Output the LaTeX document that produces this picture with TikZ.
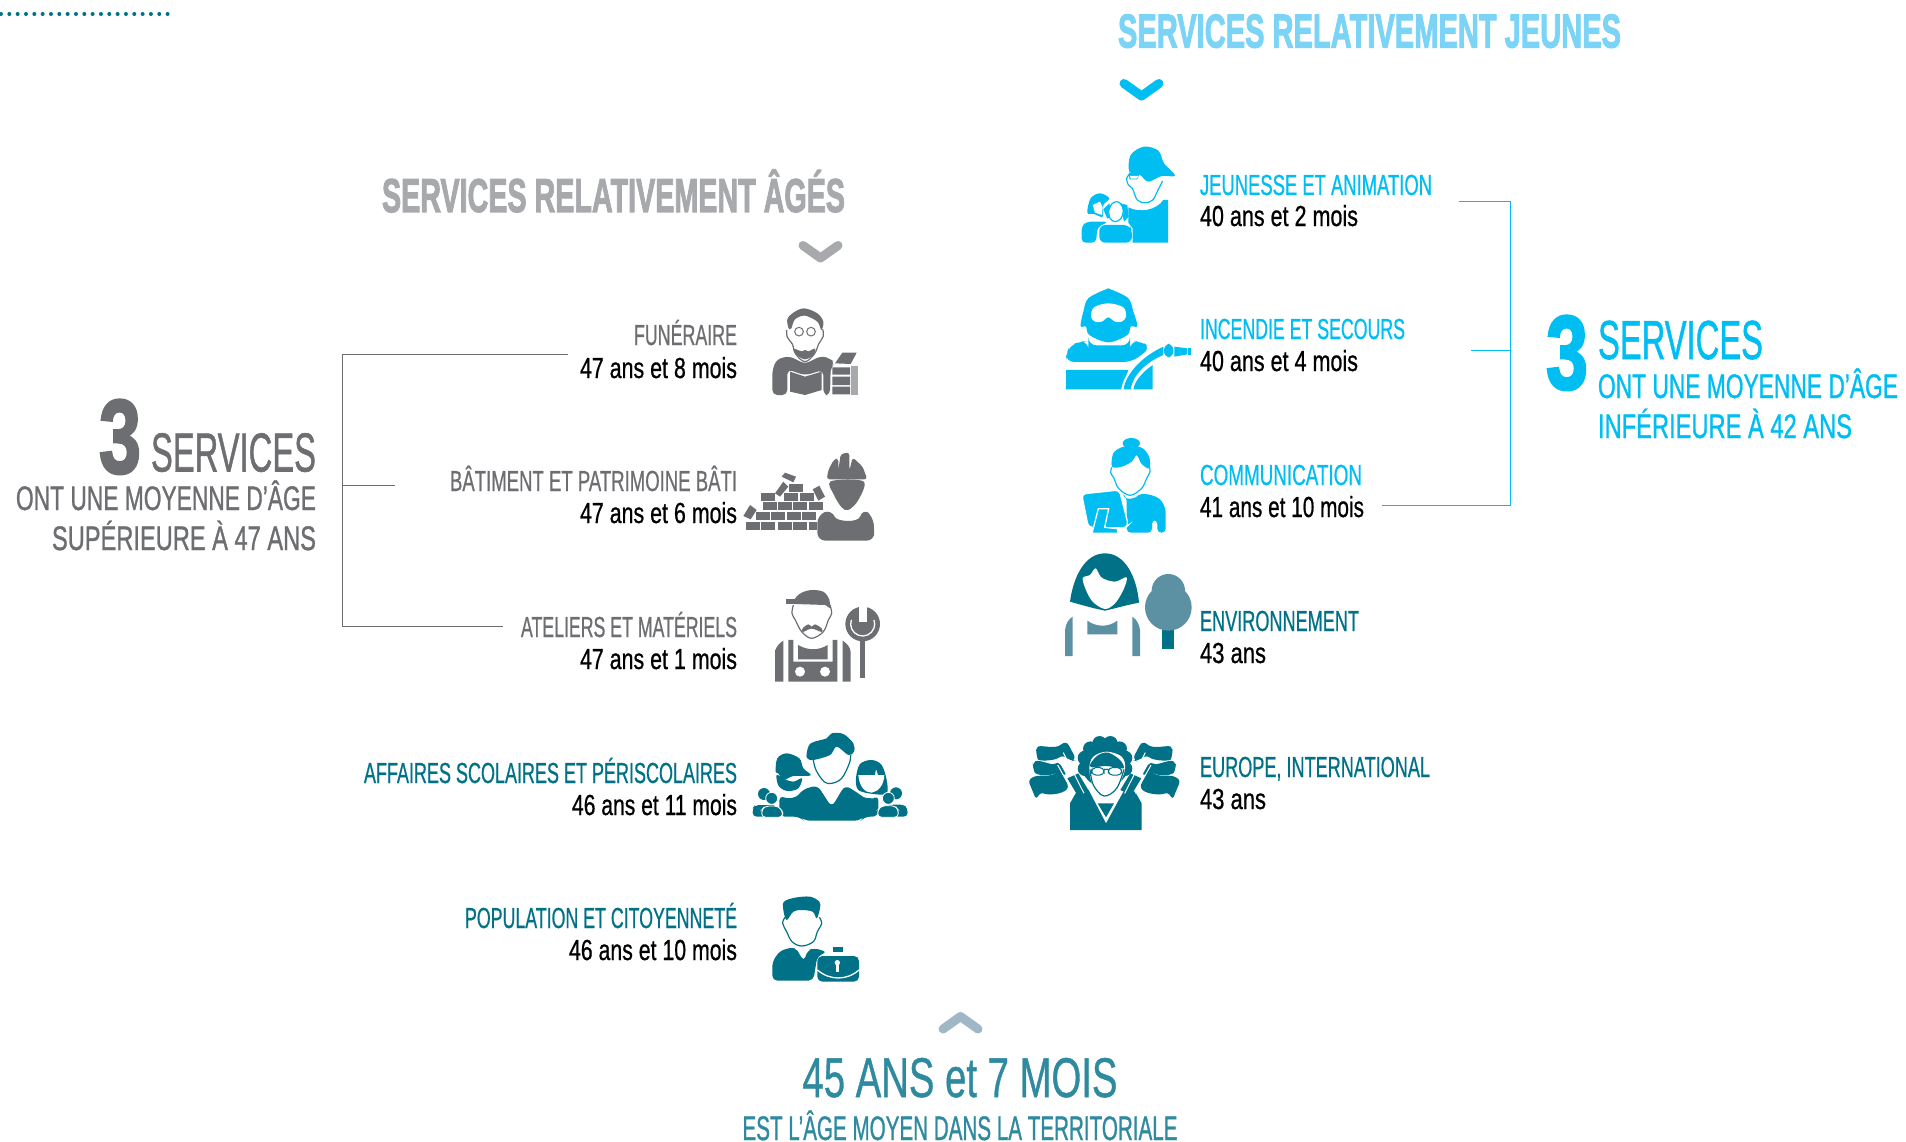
\documentclass[tikz,border=0pt]{standalone}
\usepackage{graphicx}
\usepackage{fontspec}
\setmainfont[FakeBold=0.9]{Liberation Sans}
\newfontfamily\headf[FakeBold=1.2]{Liberation Sans}
\newfontfamily\titlef[FakeBold=2.5]{Liberation Sans Bold}
\definecolor{bl}{HTML}{00BDF2}
\definecolor{ltb}{HTML}{7BD3F6}
\definecolor{te}{HTML}{007186}
\definecolor{te2}{HTML}{2F8A9F}
\definecolor{te3}{HTML}{5B91A3}
\definecolor{chv}{HTML}{A0B8C6}
\definecolor{gy}{HTML}{6D6E71}
\definecolor{lg}{HTML}{A7A9AC}
\newcommand\tw[3]{\resizebox{#1pt}{\height}{\fontsize{#2pt}{#2pt}\selectfont #3}}
\newcommand\blob[2]{\fill[#1] plot[smooth cycle,tension=.55] coordinates {#2};}
\newcommand\cur[2]{\draw[#1,line width=1.2pt] plot[smooth,tension=.6] coordinates {#2};}
\tikzset{
  lab/.style={inner sep=0pt,outer sep=0pt},
  le/.style={lab,anchor=base east},
  lw/.style={lab,anchor=base west},
  chev/.style={line width=9pt,line cap=round,line join=round},
  br/.style={line width=1pt},
  zoomed/.style={shift={#1},scale=1/3}
}
\begin{document}
\begin{tikzpicture}[x=1pt,y=-1pt]
\useasboundingbox (0,0) rectangle (1906,1142);
% dotted rule
\coordinate (d1) at (1,14); \coordinate (d2) at (169,14);
\draw[te,line width=4pt,line cap=round,dash pattern=on 0pt off 8.33pt] (d1) -- (d2);
% titles
\node[lw,text=ltb] (tjeune) at (1118,47.5) {\tw{503}{47.5}{\titlef SERVICES RELATIVEMENT JEUNES}};
\node[le,text=lg] (tage) at (845,212) {\tw{463}{47.5}{\titlef SERVICES RELATIVEMENT ÂGÉS}};
\coordinate (c1a) at (1124,83.5); \coordinate (c1b) at (1141.5,96); \coordinate (c1c) at (1159,83.5);
\draw[bl,chev] (c1a) -- (c1b) -- (c1c);
\coordinate (c2a) at (803,245.5); \coordinate (c2b) at (820.5,258); \coordinate (c2c) at (838,245.5);
\draw[lg,chev] (c2a) -- (c2b) -- (c2c);
\coordinate (c3a) at (943,1029); \coordinate (c3b) at (960.5,1016.5); \coordinate (c3c) at (978,1029);
\draw[chv,chev] (c3a) -- (c3b) -- (c3c);
% left labels
\node[le,text=gy] (l1) at (737,345) {\tw{103}{29}{FUNÉRAIRE}};
\node[le] (l1b) at (737,378) {\tw{157}{29}{47 ans et 8 mois}};
\node[le,text=gy] (l2) at (737,491) {\tw{287}{29}{BÂTIMENT ET PATRIMOINE BÂTI}};
\node[le] (l2b) at (737,523) {\tw{157}{29}{47 ans et 6 mois}};
\node[le,text=gy] (l3) at (737,637) {\tw{216}{29}{ATELIERS ET MATÉRIELS}};
\node[le] (l3b) at (737,669) {\tw{157}{29}{47 ans et 1 mois}};
\node[le,text=te] (l4) at (737,783) {\tw{373}{29}{AFFAIRES SCOLAIRES ET PÉRISCOLAIRES}};
\node[le] (l4b) at (737,815) {\tw{165}{29}{46 ans et 11 mois}};
\node[le,text=te] (l5) at (737,928) {\tw{272}{29}{POPULATION ET CITOYENNETÉ}};
\node[le] (l5b) at (737,960) {\tw{168}{29}{46 ans et 10 mois}};
% right labels
\node[lw,text=bl] (r1) at (1200,195) {\tw{232}{29}{JEUNESSE ET ANIMATION}};
\node[lw] (r1b) at (1200,226) {\tw{158}{29}{40 ans et 2 mois}};
\node[lw,text=bl] (r2) at (1200,339) {\tw{205}{29}{INCENDIE ET SECOURS}};
\node[lw] (r2b) at (1200,371) {\tw{158}{29}{40 ans et 4 mois}};
\node[lw,text=bl] (r3) at (1200,485) {\tw{162}{29}{COMMUNICATION}};
\node[lw] (r3b) at (1200,517) {\tw{164}{29}{41 ans et 10 mois}};
\node[lw,text=te] (r4) at (1200,631) {\tw{159}{29}{ENVIRONNEMENT}};
\node[lw] (r4b) at (1200,663) {\tw{66}{29}{43 ans}};
\node[lw,text=te] (r5) at (1200,777) {\tw{230}{29}{EUROPE, INTERNATIONAL}};
\node[lw] (r5b) at (1200,809) {\tw{66}{29}{43 ans}};
% left summary
\node[le,text=gy] (s3) at (141,473) {\tw{42}{105}{\titlef 3}};
\node[le,text=gy] (ss) at (316,471.5) {\tw{165}{55}{\headf SERVICES}};
\node[le,text=gy] (s1) at (316,510) {\tw{300}{34}{\headf ONT UNE MOYENNE D’ÂGE}};
\node[le,text=gy] (s2) at (316,550) {\tw{264}{34}{\headf SUPÉRIEURE À 47 ANS}};
% right summary
\node[lw,text=bl] (t3) at (1546,389) {\tw{42}{105}{\titlef 3}};
\node[lw,text=bl] (ts) at (1598,359) {\tw{165}{55}{\headf SERVICES}};
\node[lw,text=bl] (t1) at (1598,398) {\tw{300}{34}{\headf ONT UNE MOYENNE D’ÂGE}};
\node[lw,text=bl] (t2) at (1598,438) {\tw{254}{34}{\headf INFÉRIEURE À 42 ANS}};
% bottom
\node[lab,anchor=base,text=te2] (b1) at (960,1097) {\tw{315}{56}{45 ANS et 7 MOIS}};
\node[lab,anchor=base,text=te2] (b2) at (960,1140) {\tw{435}{34}{\headf EST L’ÂGE MOYEN DANS LA TERRITORIALE}};
% brackets
\coordinate (la) at (342.5,354); \coordinate (lb) at (342.5,485); \coordinate (lc) at (342.5,626);
\coordinate (la2) at (568,354); \coordinate (lb2) at (395,485); \coordinate (lc2) at (503,626);
\draw[gy,br] (la2) -- (la) -- (lc) -- (lc2);
\draw[gy,br] (lb) -- (lb2);
\coordinate (ra) at (1510.5,202); \coordinate (rb) at (1510.5,350); \coordinate (rc) at (1510.5,505.5);
\coordinate (ra2) at (1459,202); \coordinate (rb2) at (1471,350); \coordinate (rc2) at (1382,505.5);
\draw[bl,br] (ra2) -- (ra) -- (rc) -- (rc2);
\draw[bl,br] (rb) -- (rb2);

% ---------- icons traced in zoom coordinates
% Jeunesse
\begin{scope}[zoomed={(1020,120)}]
\blob{bl}{(328,155)(332,105)(372,80)(415,92)(432,130)(465,167)(425,168)(385,185)(360,165)}
\cur{bl}{(330,160)(320,175)(325,195)(337,205)(352,240)(375,248)(398,240)(415,208)(428,183)}
\fill[bl] (327,158) -- (358,163) -- (352,178) -- (328,178) -- cycle;
\fill[white] (330,168) -- (356,168) -- (350,176) -- (332,176) -- cycle;
\fill[bl] (325,262) .. controls (360,280) and (410,270) .. (430,240) -- (444,240) -- (444,368) -- (338,368) -- (338,325) -- (325,308) -- cycle;
\blob{bl}{(202,278)(212,235)(240,220)(268,235)(250,255)(248,290)(222,282)}
\fill[white] (218,255) -- (240,245) -- (248,262) -- (246,285) -- (225,278) -- cycle;
\fill[bl,rounded corners=4pt] (185,368) -- (185,318) -- (200,305) -- (265,305) -- (232,322) -- (228,368) -- cycle;
\fill[bl,rounded corners=6pt] (238,368) -- (238,315) -- (328,315) -- (336,330) -- (336,368) -- cycle;
\fill[bl] (250,268) -- (268,250) -- (275,290) -- (262,296) -- cycle;
\fill[bl] (322,255) -- (300,250) -- (312,305) -- (326,290) -- cycle;
\fill[white] (266,272) .. controls (275,240) and (300,240) .. (310,272) .. controls (312,295) and (290,310) .. (285,306) .. controls (275,305) and (262,290) .. (266,272) -- cycle;
\cur{bl}{(266,272)(275,252)(290,245)(303,252)(310,272)(303,295)(286,305)(270,295)(266,272)}
\end{scope}
% Incendie
\begin{scope}[zoomed={(1020,120)}]
\blob{bl}{(182,618)(190,575)(205,535)(258,508)(272,508)(325,535)(340,575)(352,618)(332,620)(322,645)(265,667)(208,645)(198,620)}
\blob{white}{(213,590)(222,562)(265,550)(310,562)(318,590)(305,605)(285,605)(265,592)(245,605)(225,605)}
\fill[bl,rounded corners=8pt] (138,726) -- (138,705) -- (150,675) -- (185,664) -- (205,664) -- (205,676) -- (330,676) -- (330,664) -- (365,664) -- (392,684) -- (335,726) -- cycle;
\fill[bl] (138,750) -- (325,750) -- (304,808) -- (138,808) -- cycle;
\fill[bl] (398,735) -- (398,808) -- (340,808) .. controls (345,780) and (370,755) .. (398,735) -- cycle;
\fill[white] (304,808) .. controls (310,760) and (365,700) .. (432,672) -- (432,712) .. controls (380,730) and (342,770) .. (338,810) -- cycle;
\fill[bl] (311,808) .. controls (316,762) and (368,708) .. (430,680) -- (430,705) .. controls (380,725) and (338,765) .. (332,808) -- cycle;
\fill[bl,rounded corners=6pt] (432,672) rectangle (460,712);
\fill[bl] (463,680) -- (502,685) -- (502,703) -- (463,710) -- cycle;
\fill[bl] (505,683) rectangle (513,705);
\end{scope}
% Communication
\begin{scope}[zoomed={(1020,120)}]
\fill[bl] (334,970) ellipse (26 and 16);
\blob{bl}{(276,1040)(280,1000)(305,982)(335,978)(368,985)(388,1012)(388,1045)(365,1032)(350,1006)(335,1025)(305,1040)}
\cur{bl}{(275,1042)(272,1058)(282,1075)(296,1105)(330,1126)(365,1105)(380,1075)(390,1055)(388,1040)}
\fill[bl,rounded corners=4pt] (305,1122) .. controls (320,1140) and (345,1135) .. (355,1122) -- (385,1122) -- (420,1135) -- (437,1165) -- (437,1238) -- (412,1238) -- (412,1200) -- (396,1200) -- (396,1238) -- (320,1238) -- (320,1130) -- cycle;
\fill[bl,draw=white,line width=1.3pt,rounded corners=4pt] (185,1122) -- (298,1110) -- (325,1215) -- (316,1224) -- (205,1222) -- cycle;
\fill[bl,draw=white,line width=1.3pt] (235,1166) -- (266,1166) -- (254,1222) -- (292,1226) -- (294,1240) -- (216,1240) -- cycle;
\end{scope}
% Funeraire
\begin{scope}[zoomed={(730,280)}]
\blob{gy}{(176,145)(172,118)(190,98)(222,85)(262,100)(280,125)(274,150)(262,125)(225,107)(195,118)(184,145)}
\cur{gy}{(170,150)(172,172)(187,192)(197,222)(225,245)(253,222)(266,192)(280,168)(278,148)}
\draw[gy,line width=1pt] (207,155) circle (13) (243,155) circle (13);
\blob{gy}{(190,206)(215,214)(225,210)(235,214)(255,206)(250,225)(225,238)(200,225)}
\fill[gy,rounded corners=5pt] (127,345) -- (127,270) -- (140,238) -- (177,228) -- (225,252) -- (272,228) -- (300,235) -- (316,250) -- (302,262) -- (300,345) -- (280,345) -- (280,270) -- (225,286) -- (172,268) -- (172,345) -- cycle;
\fill[gy] (180,275) -- (225,290) -- (275,275) -- (275,330) -- (225,345) -- (180,335) -- cycle;
\fill[gy] (315,250) -- (337,218) -- (380,218) -- (362,252) -- cycle;
\fill[gy] (307,262) rectangle (360,284) (307,290) rectangle (360,315) (307,320) rectangle (360,343);
\fill[lg] (363,258) rectangle (385,345);
\end{scope}
% Batiment
\begin{scope}[zoomed={(730,280)}]
\fill[gy,rounded corners=3pt] (290,598) -- (295,570) -- (312,538) -- (325,535) -- (325,572) -- (332,522) -- (358,517) -- (358,572) -- (368,532) -- (398,560) -- (412,598) -- cycle;
\blob{gy}{(302,604)(312,645)(335,682)(355,690)(385,660)(400,604)}
\fill[gy,rounded corners=8pt] (262,782) -- (262,705) -- (305,688) .. controls (320,725) and (385,730) .. (398,685) -- (430,710) -- (434,782) -- cycle;
\foreach \a/\b/\c/\d in {48/727/90/750,94/727/136/750,144/727/186/750,190/727/232/750,238/727/262/750,78/696/120/720,124/696/166/720,170/696/212/720,216/696/258/720,98/665/140/690,144/665/186/690,190/665/232/690,236/665/278/690,93/638/135/662,162/638/204/662,210/638/252/662,177/612/218/635}
  \fill[gy] (\a,\b) rectangle (\c,\d);
\fill[gy] (40,708) -- (60,675) -- (80,690) -- (62,718) -- cycle;
\fill[gy] (135,640) -- (160,605) -- (175,620) -- (150,650) -- cycle;
\fill[gy] (155,590) -- (165,578) -- (198,590) -- (190,607) -- cycle;
\fill[gy] (248,628) -- (268,617) -- (285,650) -- (265,662) -- cycle;
\end{scope}
% Ateliers
\begin{scope}[zoomed={(730,280)}]
\fill[gy] (194,958) .. controls (205,935) and (245,922) .. (280,935) .. controls (298,948) and (302,965) .. (300,985) -- (286,975) -- (194,972) -- cycle;
\fill[gy] (167,958) rectangle (250,972);
\cur{gy}{(190,975)(186,1000)(196,1020)(215,1055)(245,1075)(280,1055)(295,1020)(305,1000)(300,975)}
\blob{gy}{(218,1045)(235,1033)(245,1040)(255,1033)(275,1045)(275,1056)(245,1046)(218,1056)}
\fill[gy] (135,1205) -- (135,1112) .. controls (140,1098) and (150,1088) .. (160,1082) -- (160,1205) -- cycle;
\fill[gy] (338,1082) .. controls (350,1090) and (360,1100) .. (362,1115) -- (362,1205) -- (338,1205) -- cycle;
\fill[gy] (175,1205) -- (175,1080) -- (190,1080) -- (190,1145) -- (308,1145) -- (308,1080) -- (322,1080) -- (322,1205) -- cycle;
\fill[gy] (204,1095) .. controls (235,1112) and (265,1112) .. (293,1095) -- (293,1138) -- (204,1138) -- cycle;
\fill[white] (210,1175) circle (15) (285,1175) circle (15);
\fill[gy] (398,1032) circle (52);
\draw[white,line width=1.3pt] ([shift={(200:36)}]398,1032) arc (200:-20:36);
\fill[white] (388,975) rectangle (410,1026);
\fill[gy] (390,1075) rectangle (405,1195);
\end{scope}
% Affaires scolaires
\begin{scope}[zoomed={(730,710)}]
\fill[te,rounded corners=6pt] (148,320) -- (148,255) .. controls (175,268) and (200,262) .. (215,240) -- (262,225) -- (305,292) -- (345,225) -- (385,250) .. controls (405,265) and (430,265) .. (445,255) -- (445,320) -- (402,320) -- (392,332) -- (222,332) -- (210,320) -- cycle;
\blob{te}{(230,130)(242,100)(290,85)(305,70)(340,72)(370,100)(372,125)(355,135)(320,110)(300,135)(250,150)(232,145)}
\cur{te}{(250,150)(258,180)(282,215)(305,220)(335,205)(358,160)(362,135)}
\blob{te}{(137,185)(142,145)(170,130)(208,145)(220,175)(242,196)(190,198)(160,210)(145,190)}
\blob{te}{(140,195)(146,228)(172,243)(205,235)(216,205)(190,215)(165,208)}
\blob{te}{(378,205)(390,162)(425,150)(455,165)(470,210)(470,250)(430,252)(385,240)}
\fill[white] (385,195) -- (435,195) -- (438,178) -- (444,195) -- (463,195) .. controls (462,225) and (445,245) .. (425,248) .. controls (405,248) and (388,230) .. (385,195) -- cycle;
\fill[te] (102,252) circle (18) (498,250) circle (18);
\fill[te,draw=white,line width=.8pt] (125,265) circle (18) (475,265) circle (18);
\fill[te,rounded corners=4pt] (68,320) -- (68,295) -- (75,285) -- (140,285) -- (150,320) -- cycle;
\fill[te,draw=white,line width=.8pt,rounded corners=4pt] (95,322) -- (95,300) -- (105,288) -- (145,288) -- (158,305) -- (158,322) -- cycle;
\fill[te,rounded corners=4pt] (460,320) -- (470,285) -- (520,283) -- (533,295) -- (533,320) -- cycle;
\fill[te,draw=white,line width=.8pt,rounded corners=4pt] (443,322) -- (443,300) -- (455,287) -- (495,287) -- (505,300) -- (505,322) -- cycle;
\end{scope}
% Population
\begin{scope}[zoomed={(730,710)}]
\blob{te}{(160,600)(162,575)(195,563)(240,560)(268,575)(270,595)(260,625)(248,605)(215,600)(190,605)(170,630)}
\cur{te}{(165,622)(158,640)(170,665)(186,695)(215,708)(250,695)(262,665)(275,640)(268,622)}
\fill[te,rounded corners=5pt] (127,812) -- (127,755) -- (150,722) -- (195,710) -- (222,755) -- (232,722) -- (252,714) -- (292,726) -- (262,738) -- (250,812) -- cycle;
\fill[te,rounded corners=5pt] (262,738) rectangle (387,815);
\fill[te] (308,712) rectangle (340,725);
\draw[white,line width=1.3pt] (262,780) .. controls (300,812) and (350,812) .. (387,780);
\fill[white] (322,758) circle (8);
\fill[white] (318,758) rectangle (326,785);
\end{scope}
% Environnement
\begin{scope}[zoomed={(1040,540)}]
\fill[te] (90,185) .. controls (100,110) and (135,40) .. (195,40) .. controls (255,40) and (290,110) .. (297,188) .. controls (260,195) and (225,205) .. (195,212) .. controls (160,205) and (125,195) .. (90,185) -- cycle;
\blob{white}{(128,115)(150,105)(167,85)(185,113)(225,125)(260,112)(250,150)(225,190)(195,207)(160,187)(140,155)}
\fill[te3] (75,348) -- (75,270) .. controls (78,250) and (85,238) .. (98,230) -- (98,348) -- cycle;
\fill[te3] (277,230) .. controls (292,240) and (298,255) .. (300,270) -- (300,348) -- (277,348) -- cycle;
\fill[te3] (142,242) .. controls (170,262) and (205,262) .. (232,242) -- (232,283) -- (142,283) -- cycle;
\fill[te] (365,265) rectangle (403,328);
\fill[te3] (385,152) circle (50) (385,202) circle (70);
\end{scope}
% Europe
\begin{scope}[zoomed={(730,710)}]
\fill[te] (1125,160) circle (72);
\foreach \ang in {0,30,...,210}
  \fill[te] ({1125+62*cos(\ang+165)},{160+62*sin(\ang+165)}) circle (22);
\blob{white}{(1078,175)(1088,225)(1122,258)(1160,235)(1185,178)(1175,140)(1130,125)(1090,140)}
\cur{te}{(1080,178)(1090,225)(1122,258)(1160,235)(1182,178)}
\blob{te}{(1082,160)(1105,135)(1135,128)(1170,150)(1180,175)(1130,168)(1085,172)}
\draw[te,line width=1pt,rounded corners=4pt] (1085,173) rectangle (1122,195) (1135,173) rectangle (1175,195) (1122,178) -- (1135,178);
\fill[te] (1020,360) -- (1020,280) -- (1040,245) -- (1076,240) -- (1128,340) -- (1183,240) -- (1215,245) -- (1235,280) -- (1235,360) -- cycle;
\fill[te] (1103,280) -- (1152,280) -- (1128,322) -- cycle;
\foreach \xs/\xo in {1/0,-1/2246} {
  \begin{scope}[xshift=\xo,xscale=\xs]
  \fill[te,rounded corners=6pt] (918,130) .. controls (925,100) and (975,122) .. (1008,90) -- (1040,150) -- (1020,155) -- (1000,132) .. controls (975,152) and (925,155) .. (918,130) -- cycle;
  \fill[te,rounded corners=5pt] (908,172) .. controls (918,142) and (965,168) .. (985,152) -- (1012,200) -- (985,184) .. controls (960,198) and (918,198) .. (908,172) -- cycle;
  \fill[te,rounded corners=3pt] (895,212) .. controls (925,186) and (960,210) .. (990,176) -- (1014,222) .. controls (1012,250) and (960,258) .. (932,247) -- (918,268) -- cycle;
  \fill[te] (1012,205) -- (1045,190) -- (1075,240) -- (1042,255) -- cycle;
  \draw[white,line width=1pt] (1000,128) -- (1062,250) (983,165) -- (1030,250);
  \end{scope}
}
\end{scope}
\end{tikzpicture}
\end{document}
